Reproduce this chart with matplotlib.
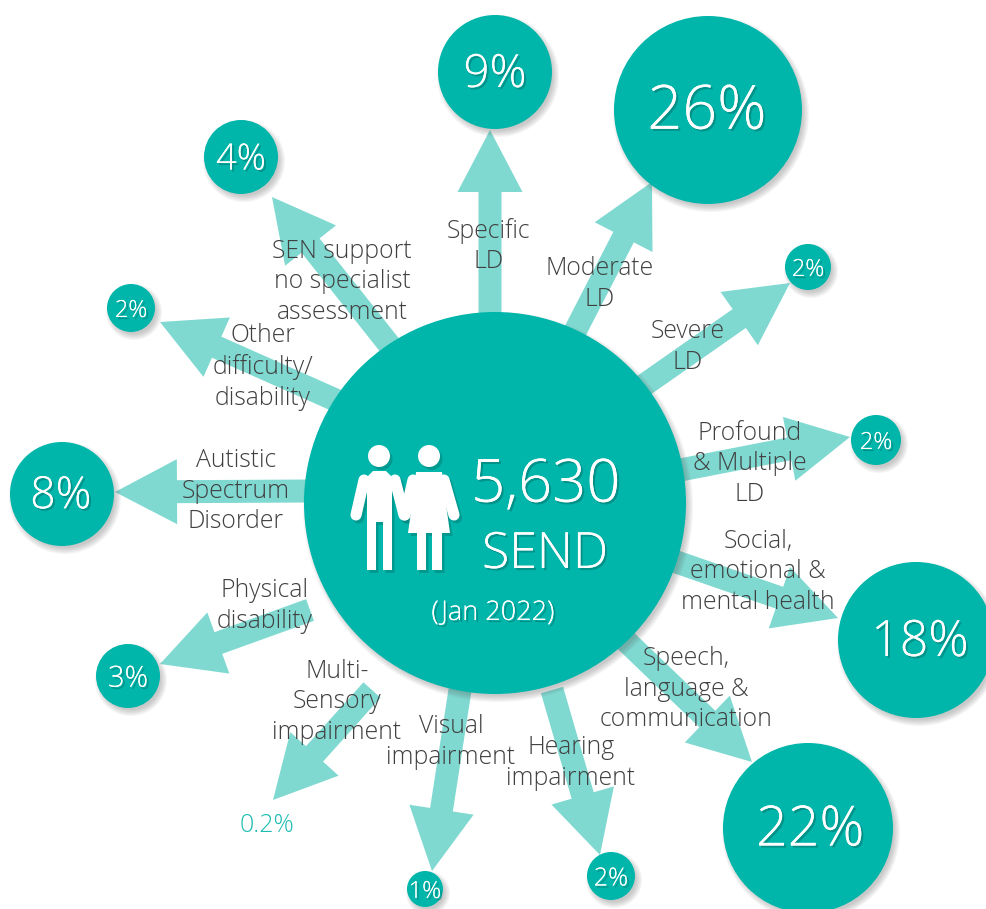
import matplotlib
matplotlib.use('Agg')
import matplotlib.pyplot as plt
import matplotlib.patheffects as pe
from matplotlib.patches import Circle, Polygon, FancyArrow

plt.rcParams['font.family'] = ['Open Sans', 'DejaVu Sans']

# Chart content
total_label = '5,630'
total_name = 'SEND'
total_date = '(Jan 2022)'

categories = ['Specific\nLD', 'Moderate\nLD', 'Severe\nLD', 'Profound\n& Multiple\nLD',
              'Social,\nemotional &\nmental health', 'Speech,\nlanguage &\ncommunication',
              'Hearing\nimpairment', 'Visual\nimpairment', 'Multi-\nSensory\nimpairment',
              'Physical\ndisability', 'Autistic\nSpectrum\nDisorder', 'Other\ndifficulty/\ndisability',
              'SEN support\nno specialist\nassessment']
shares = ['9%', '26%', '2%', '2%', '18%', '22%', '2%', '1%', '0.2%', '3%', '8%', '2%', '4%']

# Layout in picture pixels, same order as categories
bubble_xy = [(495, 72), (708, 110), (808, 267), (876, 440), (916, 640), (808, 828), (611, 876),
             (425, 889), (267, 822), (128, 676), (62, 494), (131, 308), (241, 157)]
share_xy = [(495, 75), (707, 113), (808, 270), (876, 443), (920, 643), (810, 831), (611, 879),
            (425, 892), (267, 825), (128, 679), (61, 497), (131, 311), (241, 160)]
bubble_r = [57, 94, 23, 25, 78, 85, 24, 18, 0, 32, 52, 24, 37]
bubble_fs = [33, 44, 17, 17, 36, 40, 18, 17, 18, 21, 32, 17, 26]
arrow_from = [(490, 330), (568, 345), (630, 395), (670, 472), (665, 558), (625, 640), (552, 690),
              (460, 690), (372, 690), (310, 610), (310, 491), (340, 402), (395, 352)]
arrow_tip = [(490, 130), (652, 182), (790, 283), (850, 437), (838, 618), (752, 762), (600, 855),
             (432, 871), (273, 800), (160, 664), (115, 492), (160, 322), (272, 197)]
label_xy = [(489, 246), (600, 284), (688, 347), (750, 464), (758, 572), (686, 689), (571, 763),
            (451, 742), (337, 702), (265, 606), (236, 491), (263, 367), (342, 282)]

TEAL = '#00B5AA'
ARROW = '#7FD9D1'
GREY = '#404040'
ICON_SHADOW = '#007f77'

fig = plt.figure(figsize=(9.87, 9.09), dpi=100)
ax = fig.add_axes([0, 0, 1, 1])
ax.set_xlim(0, 987)
ax.set_ylim(909, 0)
ax.axis('off')


def soft_circle(x, y, r, z):
    # stacked transparent discs stand in for the soft drop shadow
    for k in range(6):
        ax.add_patch(Circle((x + 3, y + 4), r + 4 - k * 1.2, color='#555555', alpha=0.06, lw=0, zorder=z))
    ax.add_patch(Circle((x, y), r, color=TEAL, lw=0, zorder=z + 0.1))


shadow = [pe.withSimplePatchShadow(offset=(1.5, -1.5), shadow_rgbFace='#006f68', alpha=0.5), pe.Normal()]

for start, tip in zip(arrow_from, arrow_tip):
    ax.add_patch(FancyArrow(start[0], start[1], tip[0] - start[0], tip[1] - start[1], width=23,
                            head_width=65, head_length=62, length_includes_head=True,
                            color=ARROW, lw=0, zorder=1))

for name, share, txy, cxy, r, fs, lab in zip(categories, shares, share_xy, bubble_xy, bubble_r, bubble_fs, label_xy):
    ax.text(lab[0], lab[1], name, ha='center', va='center', fontsize=17.8, color=GREY,
            linespacing=1.3, zorder=3, fontweight='light')
    if r > 0:
        soft_circle(cxy[0], cxy[1], r, 2)
        ax.text(txy[0], txy[1], share, ha='center', va='center', fontsize=fs, color='white',
                path_effects=shadow, zorder=4, fontweight='light')
    else:
        ax.text(txy[0], txy[1], share, ha='center', va='center', fontsize=fs, color='#1FBDB3',
                zorder=4, fontweight='light')

# Centre circle
soft_circle(495, 503, 191, 5)

# People icon, each piece drawn once as shadow and once in white
def limb(xs, ys, w=8):
    ax.plot([x + 2.5 for x in xs], [y + 3 for y in ys], color=ICON_SHADOW, alpha=0.5, lw=w,
            solid_capstyle='round', zorder=5.5)
    ax.plot(xs, ys, color='white', lw=w, solid_capstyle='round', zorder=6)


def shape(pts):
    ax.add_patch(Polygon([(x + 2.5, y + 3) for x, y in pts], closed=True, color=ICON_SHADOW, alpha=0.5,
                         lw=0, zorder=5.5))
    ax.add_patch(Polygon(pts, closed=True, color='white', lw=0, zorder=6))


def head(x, y):
    ax.add_patch(Circle((x + 2.5, y + 3), 11, color=ICON_SHADOW, alpha=0.5, lw=0, zorder=5.5))
    ax.add_patch(Circle((x, y), 11, color='white', lw=0, zorder=6))


head(379, 456)
head(429, 456)
# man
limb([364, 356], [480, 515])
limb([395, 404], [480, 515])
shape([(367, 477), (373, 471), (386, 471), (392, 477), (392, 570), (383, 570), (383, 522),
       (376, 522), (376, 570), (367, 570)])
# woman
limb([413, 405], [480, 515])
limb([444, 454], [480, 515])
shape([(416, 472), (442, 472), (444, 490), (450, 533), (442, 533), (442, 570), (432, 570),
       (432, 533), (426, 533), (426, 570), (417, 570), (417, 533), (408, 533), (414, 490)])

ax.text(546, 486, total_label, ha='center', va='center', fontsize=43, color='white',
        path_effects=shadow, zorder=6, fontweight='light')
ax.text(545, 555, total_name, ha='center', va='center', fontsize=36, color='white',
        path_effects=shadow, zorder=6, fontweight='light')
ax.text(493, 613, total_date, ha='center', va='center', fontsize=19.5, color='white',
        path_effects=shadow, zorder=6, fontweight='light')

fig.savefig('out.png', dpi=100, facecolor='white')
